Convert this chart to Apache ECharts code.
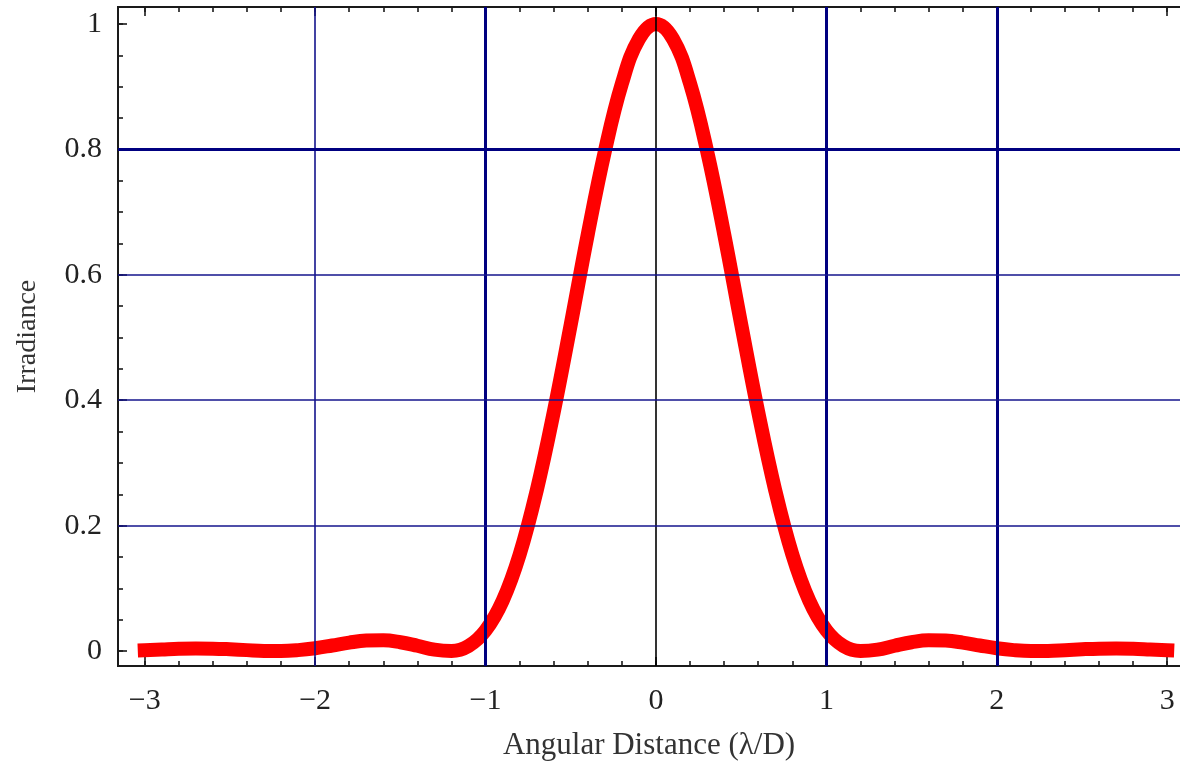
<!DOCTYPE html>
<html>
<head>
<meta charset="utf-8">
<script src="https://cdn.jsdelivr.net/npm/echarts@6/dist/echarts.min.js"></script>
<style>html,body{margin:0;padding:0;background:#fff;}#c{width:1180px;height:766px;}</style>
</head>
<body>
<div id="c"></div>
<script>
// ---- data ----
const xValues = [-3.0,-2.9,-2.8,-2.7,-2.6,-2.5,-2.4,-2.3,-2.2,-2.1,-2.0,-1.9,-1.8,-1.7,-1.6,-1.5,-1.4,-1.3,-1.2,-1.1,-1.0,-0.9,-0.8,-0.7,-0.6,-0.5,-0.4,-0.3,-0.2,-0.1,0.0,0.1,0.2,0.3,0.4,0.5,0.6,0.7,0.8,0.9,1.0,1.1,1.2,1.3,1.4,1.5,1.6,1.7,1.8,1.9,2.0,2.1,2.2,2.3,2.4,2.5,2.6,2.7,2.8,2.9,3.0];
const irradiance = [0.0014,0.0025,0.0036,0.0041,0.0039,0.0029,0.0015,0.0003,0.0001,0.0015,0.0045,0.0089,0.0135,0.0167,0.0172,0.0141,0.0085,0.0023,0.0002,0.0081,0.033,0.080,0.154,0.256,0.381,0.521,0.665,0.797,0.905,0.976,1.000,0.976,0.905,0.797,0.665,0.521,0.381,0.256,0.154,0.080,0.033,0.0081,0.0002,0.0023,0.0085,0.0141,0.0172,0.0167,0.0135,0.0089,0.0045,0.0015,0.0001,0.0003,0.0015,0.0029,0.0039,0.0041,0.0036,0.0025,0.0014];
const xMajorTicks = [-3,-2,-1,0,1,2,3];
const xMinorTicks = [-3.0,-2.8,-2.6,-2.4,-2.2,-2.0,-1.8,-1.6,-1.4,-1.2,-1.0,-0.8,-0.6,-0.4,-0.2,0.0,0.2,0.4,0.6,0.8,1.0,1.2,1.4,1.6,1.8,2.0,2.2,2.4,2.6,2.8,3.0];
const yMajorTicks = [0,0.2,0.4,0.6,0.8,1];
const yMinorTicks = [0,0.05,0.1,0.15,0.2,0.25,0.3,0.35,0.4,0.45,0.5,0.55,0.6,0.65,0.7,0.75,0.8,0.85,0.9,0.95,1.0];
const xGridLines = [-2,-1,0,1,2];
const yGridLines = [0.2,0.4,0.6,0.8];
const xRange = [-3.157, 3.075];
const yRange = [-0.0238, 1.027];
const xAxisTitle = 'Angular Distance (λ/D)';
const yAxisTitle = 'Irradiance';

// ---- styles ----
const serif = "'Liberation Serif','Times New Roman',serif";
const frameColor = '#1a1a1a';
const thinGrid = {color: '#14148c', width: 1.6, type: 'solid'};
const thickGrid = {color: '#000080', width: 3, type: 'solid'};
const zeroGrid = {color: '#000000', width: 1.6, type: 'solid'};
const thickX = new Set([-1, 1, 2]);
const thickY = new Set([0.8]);

const fmt = v => (v < 0 ? '\u2212' + Math.abs(v) : String(v));

function mkX(position, ticks, len, labels) {
  return {
    type: 'value', gridIndex: 0, position: position,
    min: xRange[0], max: xRange[1],
    axisLine: {show: true, onZero: false, lineStyle: {color: frameColor, width: 2}},
    axisTick: {show: true, inside: true, length: len, customValues: ticks, lineStyle: {color: frameColor, width: 1.6}},
    axisLabel: labels ? {show: true, customValues: xMajorTicks, formatter: fmt, fontFamily: serif, fontSize: 30, color: '#222', margin: 20} : {show: false},
    splitLine: {show: false},
    minorTick: {show: false}, minorSplitLine: {show: false}
  };
}
function mkY(position, ticks, len, labels) {
  return {
    type: 'value', gridIndex: 0, position: position,
    min: yRange[0], max: yRange[1],
    axisLine: {show: true, onZero: false, lineStyle: {color: frameColor, width: 2}},
    axisTick: {show: true, inside: true, length: len, customValues: ticks, lineStyle: {color: frameColor, width: 1.6}},
    axisLabel: labels ? {show: true, customValues: yMajorTicks, formatter: fmt, fontFamily: serif, fontSize: 30, color: '#222', margin: 16} : {show: false},
    splitLine: {show: false},
    minorTick: {show: false}, minorSplitLine: {show: false}
  };
}

const xAxes = [mkX('bottom', xMajorTicks, 9, true), mkX('bottom', xMinorTicks, 5, false), mkX('top', xMajorTicks, 9, false), mkX('top', xMinorTicks, 5, false)];
xAxes[0].name = xAxisTitle;
xAxes[0].nameLocation = 'middle';
xAxes[0].nameGap = 64;
xAxes[0].nameTextStyle = {fontFamily: serif, fontSize: 31, color: '#333'};
const yAxes = [mkY('left', yMajorTicks, 9, true), mkY('left', yMinorTicks, 5, false)];
yAxes[0].name = yAxisTitle;
yAxes[0].nameLocation = 'middle';
yAxes[0].nameGap = 76;
yAxes[0].nameTextStyle = {fontFamily: serif, fontSize: 28, color: '#333'};

const gridMarks = [];
xGridLines.forEach(v => gridMarks.push({xAxis: v, lineStyle: v === 0 ? zeroGrid : (thickX.has(v) ? thickGrid : thinGrid)}));
yGridLines.forEach(v => gridMarks.push({yAxis: v, lineStyle: thickY.has(v) ? thickGrid : thinGrid}));

const chart = echarts.init(document.getElementById('c'), null, {renderer: 'canvas'});
chart.setOption({
  animation: false,
  backgroundColor: '#ffffff',
  grid: {left: 118, top: 7, right: 0, bottom: 96, containLabel: false},
  xAxis: xAxes,
  yAxis: yAxes,
  series: [
    {
      type: 'line', xAxisIndex: 0, yAxisIndex: 0, z: 1,
      data: [], silent: true,
      markLine: {silent: true, symbol: ['none', 'none'], label: {show: false}, animation: false, data: gridMarks}
    },
    {
      type: 'line', xAxisIndex: 0, yAxisIndex: 0, z: 3,
      data: xValues.map((x, i) => [x, irradiance[i]]),
      showSymbol: false, smooth: 0.4,
      lineStyle: {color: '#ff0000', width: 14, cap: 'square', join: 'round'},
      silent: true
    }
  ]
});
</script>
</body>
</html>
